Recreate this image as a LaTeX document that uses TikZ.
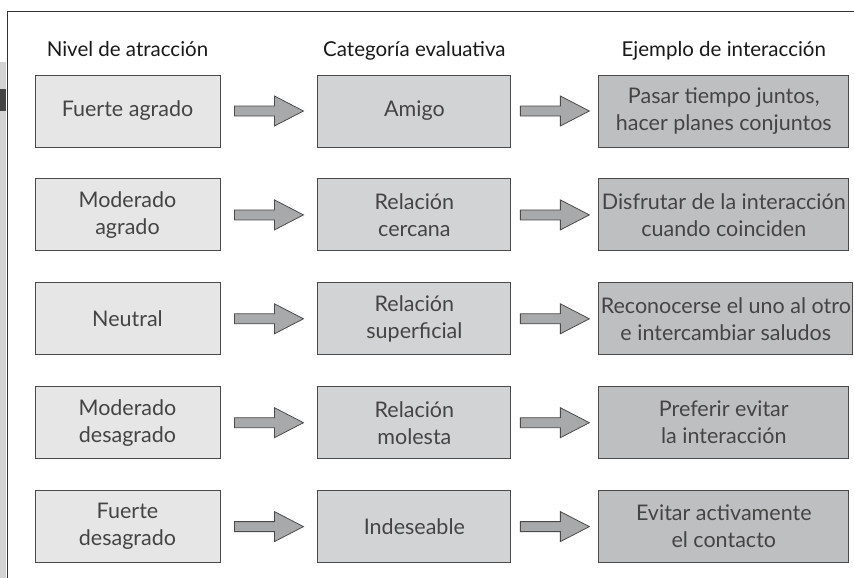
\documentclass[tikz,border=0pt]{standalone}
\usepackage{fontspec}
\setmainfont{Lato}
\usepackage{tikz}
\usetikzlibrary{positioning,calc}
\definecolor{atgrey}{HTML}{444444}
\definecolor{atline}{HTML}{4A4A4A}
\definecolor{atfillA}{HTML}{E6E6E7}
\definecolor{atfillB}{HTML}{D2D3D4}
\definecolor{atfillC}{HTML}{BEBFC1}
\definecolor{atarrow}{HTML}{A8A9AB}
\definecolor{atstrip}{HTML}{D3D3D3}

% block arrow centred in the gap between two boxes
\newcommand{\bloque}[2]{%
  \draw[flecha] ($(#1.east)!0.5!(#2.west)+(-34.5,-5)$) -- ++(40,0) -- ++(0,-10)
    -- ++(29,15) -- ++(-29,15) -- ++(0,-10) -- ++(-40,0) -- cycle;}

\begin{document}
\begin{tikzpicture}[x=1pt,y=-1pt,
  caja/.style={draw=atline,line width=0.9pt,minimum height=72pt,align=center,
               inner sep=2pt,font=\fontsize{21.5}{27}\selectfont\color{atgrey}},
  nivel/.style={caja,fill=atfillA,minimum width=185pt},
  categ/.style={caja,fill=atfillB,minimum width=193pt},
  ejem/.style={caja,fill=atfillC,minimum width=250pt},
  titulo/.style={font=\fontsize{20.5}{24}\selectfont\color{black!90},anchor=base},
  flecha/.style={draw=atline,line width=0.8pt,fill=atarrow},
  node distance=31pt and 97pt
]
\useasboundingbox (0,0) rectangle (854,578);
% frame and side strip
\fill[atstrip] (0,62) rectangle (6,578);
\fill[atgrey] (0,89) rectangle (6,111);
\draw[line width=1pt,black!80] (7,578) -- (7,12) -- (854,12);

% column 1
\node[nivel] (fa) at (127.5,111) {Fuerte agrado};
\node[nivel,below=of fa] (ma) {Moderado\\agrado};
\node[nivel,below=of ma] (ne) {Neutral};
\node[nivel,below=of ne] (md) {Moderado\\desagrado};
\node[nivel,below=of md] (fd) {Fuerte\\desagrado};
% column 2
\node[categ,right=of fa] (am) {Amigo};
\node[categ,right=of ma] (rc) {Relación\\cercana};
\node[categ,right=of ne] (rs) {Relación\\superficial};
\node[categ,right=of md] (rm) {Relación\\molesta};
\node[categ,right=of fd] (in) {Indeseable};
% column 3
\node[ejem,right=87pt of am] (e1) {Pasar tiempo juntos,\\hacer planes conjuntos};
\node[ejem,right=87pt of rc] (e2) {Disfrutar de la interacción\\cuando coinciden};
\node[ejem,right=87pt of rs] (e3) {Reconocerse el uno al otro\\e intercambiar saludos};
\node[ejem,right=87pt of rm] (e4) {Preferir evitar\\la interacción};
\node[ejem,right=87pt of in] (e5) {Evitar activamente\\el contacto};

% headings
\node[titulo] (h1) at (fa |- 0,57) {Nivel de atracción};
\node[titulo] (h2) at (am |- 0,57) {Categoría evaluativa};
\node[titulo] (h3) at (e1 |- 0,57) {Ejemplo de interacción};

% arrows
\bloque{fa}{am} \bloque{am}{e1}
\bloque{ma}{rc} \bloque{rc}{e2}
\bloque{ne}{rs} \bloque{rs}{e3}
\bloque{md}{rm} \bloque{rm}{e4}
\bloque{fd}{in} \bloque{in}{e5}
\end{tikzpicture}
\end{document}
